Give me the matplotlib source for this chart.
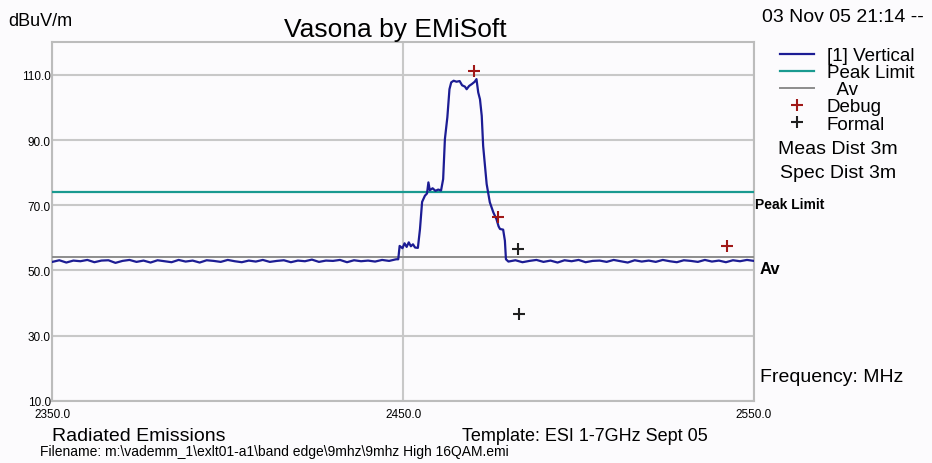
import matplotlib
matplotlib.use("Agg")
import matplotlib.pyplot as plt
import numpy as np

plt.rcParams['font.family'] = ['Liberation Sans', 'DejaVu Sans']

# данные: уровень сигнала (dBuV/m) по частоте (MHz)
left_start, left_stop = 2350.0, 2448.0
left_levels = [52.6, 53.1, 52.4, 53.0, 52.8, 53.2, 52.5, 53.0, 53.1, 52.3,
               52.9, 53.2, 52.6, 53.0, 52.4, 53.1, 52.8, 52.5, 53.2, 52.7,
               53.0, 52.4, 53.1, 52.9, 52.6, 53.2, 52.8, 52.5, 53.0, 52.7,
               53.2, 52.6, 52.9, 53.1, 52.5, 53.0, 52.8, 53.3, 52.6, 53.0,
               52.9, 53.2, 52.5, 53.1, 52.8, 53.0, 52.7, 53.2, 52.9, 53.4]

peak_freq = [2448.6, 2449.0, 2449.8, 2450.4, 2451.0, 2451.6, 2452.2, 2452.8,
             2453.4, 2454.2, 2454.8, 2455.4, 2456.2, 2456.8, 2457.2, 2457.6,
             2458.4, 2459.2, 2460.0, 2460.8, 2461.4, 2461.9, 2462.6, 2463.2,
             2463.7, 2464.4, 2465.2, 2466.1, 2466.8, 2467.6, 2468.1, 2468.8,
             2469.6, 2470.4, 2470.9, 2471.4, 2471.9, 2472.4, 2472.8, 2473.8,
             2474.7, 2475.7, 2476.6, 2477.2, 2477.6, 2478.5, 2479.0, 2479.3]
peak_levels = [53.4, 57.5, 56.8, 58.3, 57.2, 58.6, 57.4, 58.0,
               57.0, 56.9, 62.7, 71.0, 72.9, 73.6, 77.0, 74.6,
               75.2, 74.4, 74.8, 74.5, 78.0, 90.3, 97.0, 105.6,
               107.7, 108.2, 107.9, 108.1, 106.8, 106.4, 105.6, 106.6,
               107.2, 107.9, 108.7, 104.6, 102.5, 97.4, 88.2, 76.5,
               70.9, 67.8, 65.7, 63.5, 62.7, 62.5, 59.1, 53.4]

right_start, right_stop = 2480.0, 2550.0
right_levels = [52.7, 53.1, 52.5, 52.9, 53.2, 52.6, 53.0, 52.4, 53.1, 52.8,
                53.2, 52.5, 52.9, 53.0, 52.6, 53.2, 52.8, 52.4, 53.1, 52.7,
                53.0, 52.6, 53.2, 52.8, 52.5, 53.1, 52.9, 52.6, 53.2, 52.7,
                53.0, 52.5, 53.1, 52.8, 53.2, 52.9]

peak_limit = 74.0
av_limit = 54.0

debug_freq = [2470.2, 2476.9, 2542.4]
debug_level = [111.2, 66.3, 57.4]
formal_freq = [2482.8, 2482.9]
formal_level = [56.7, 36.6]

y_ticks = [10, 30, 50, 70, 90, 110]
x_ticks = [2350, 2450, 2550]

freq = np.concatenate([np.linspace(left_start, left_stop, len(left_levels)),
                       peak_freq,
                       np.linspace(right_start, right_stop, len(right_levels))])
level = np.concatenate([left_levels, peak_levels, right_levels])

bg = '#fcfbfd'
fig = plt.figure(figsize=(9.32, 4.64), dpi=100, facecolor=bg)
ax = fig.add_axes([52.3 / 932, 0.1343, (754 - 52.3) / 932, 0.7724], facecolor=bg)

ax.plot(freq, level, color='#1c1c94', lw=1.6, label='[1] Vertical', zorder=4)
ax.axhline(peak_limit, color='#1a9a90', lw=1.6, label='Peak Limit', zorder=3)
ax.axhline(av_limit, color='#8c8c8c', lw=1.4, label='  Av', zorder=3)
ax.plot(debug_freq, debug_level, '+', color='#a01818', ms=8, mew=1.5,
        label='Debug', zorder=5)
ax.plot(formal_freq, formal_level, '+', color='#202020', ms=8, mew=1.5,
        label='Formal', zorder=5)

ax.set_xlim(2350, 2550)
ax.set_ylim(10, 120)
ax.set_yticks(y_ticks)
ax.set_yticklabels([f'{v:.1f}' for v in y_ticks], fontsize=8.5)
ax.set_xticks(x_ticks)
ax.set_xticklabels([f'{v:.1f}' for v in x_ticks], fontsize=8.5)
ax.tick_params(length=0, pad=1)
ax.tick_params(axis='x', pad=5)
ax.grid(True, color='#c8c8c8', lw=1.5)
ax.set_axisbelow(True)
for s in ax.spines.values():
    s.set_color('#bcbcbc')
    s.set_linewidth(1.5)

# подписи
fig.text(8 / 932, 1 - 22 / 464, 'dBuV/m', fontsize=13, va='center')
fig.text(395 / 932, 1 - 30 / 464, 'Vasona by EMiSoft', fontsize=19,
         ha='center', va='center')
fig.text(762 / 932, 1 - 18 / 464, '03 Nov 05 21:14 --', fontsize=14, va='center')
fig.text(778 / 932, 1 - 150 / 464, 'Meas Dist 3m', fontsize=14, va='center')
fig.text(780 / 932, 1 - 174 / 464, 'Spec Dist 3m', fontsize=14, va='center')
fig.text(760 / 932, 1 - 378 / 464, 'Frequency: MHz', fontsize=14, va='center')
fig.text(755 / 932, 1 - 205 / 464, 'Peak Limit', fontsize=10, va='center',
         fontweight='bold')
fig.text(760 / 932, 1 - 270 / 464, 'Av', fontsize=12, va='center',
         fontweight='bold')
fig.text(52 / 932, 1 - 437 / 464, 'Radiated Emissions', fontsize=14, va='center')
fig.text(462 / 932, 1 - 437 / 464, 'Template: ESI 1-7GHz Sept 05', fontsize=13,
         va='center')
fig.text(40 / 932, 1 - 452 / 464,
         'Filename: m:\\vademm_1\\exlt01-a1\\band edge\\9mhz\\9mhz High 16QAM.emi',
         fontsize=10, va='center')

fig.legend(loc='upper left', bbox_to_anchor=(780 / 932, 1 - 48 / 464),
           frameon=False, fontsize=13.5, labelspacing=0.0, handlelength=1.8,
           handletextpad=0.7, borderpad=0, borderaxespad=0)

fig.savefig('out.png', dpi=100, facecolor=bg)
